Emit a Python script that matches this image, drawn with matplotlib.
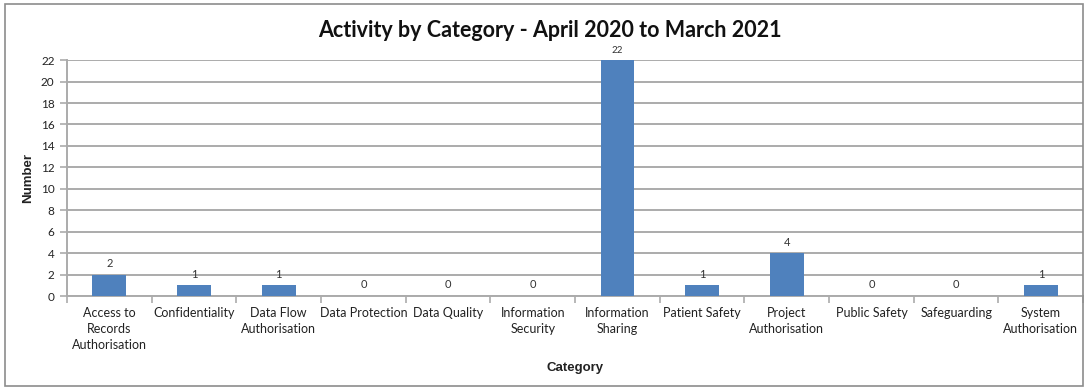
import matplotlib
matplotlib.use("Agg")
import matplotlib.pyplot as plt
from matplotlib.patches import Rectangle
import numpy as np

categories = [
    "Access to\nRecords\nAuthorisation", "Confidentiality", "Data Flow\nAuthorisation",
    "Data Protection", "Data Quality", "Information\nSecurity", "Information\nSharing",
    "Patient Safety", "Project\nAuthorisation", "Public Safety", "Safeguarding",
    "System\nAuthorisation",
]
counts = [2, 1, 1, 0, 0, 0, 22, 1, 4, 0, 0, 1]
y_ticks = list(range(0, 23, 2))

bar_color = "#4F81BD"
grid_color = "#ABABAB"
text_color = "#222222"
body_font = ["Lato", "DejaVu Sans"]
label_font = ["Liberation Sans", "DejaVu Sans"]

fig = plt.figure(figsize=(10.85, 3.88), dpi=100)
fig.patches.append(Rectangle((0.005, 0.005), 0.993, 0.985, transform=fig.transFigure,
                             fill=False, edgecolor="#8C8C8C", linewidth=1.2))

ax = fig.add_axes([0.0618, 0.237, 0.9365, 0.608])
x = np.arange(len(categories))
ax.bar(x, counts, width=0.4, color=bar_color, zorder=3)

ax.set_xlim(-0.5, len(categories) - 0.5)
ax.set_ylim(0, 22)
ax.set_yticks(y_ticks)
ax.set_yticklabels([str(v) for v in y_ticks], fontsize=8.5, family=body_font, color=text_color)
ax.yaxis.grid(True, color=grid_color, linewidth=1.4, zorder=0)
ax.set_axisbelow(True)

ax.set_xticks(x)
ax.set_xticklabels(categories, fontsize=9, family=body_font, color=text_color,
                   linespacing=1.4, va="top")
ax.tick_params(axis="x", which="major", length=0, pad=8)
ax.set_xticks(np.arange(-0.5, len(categories), 1), minor=True)
ax.tick_params(axis="x", which="minor", length=5, color=grid_color, width=1.2)
ax.tick_params(axis="y", length=5, color=grid_color, width=1.2, pad=4)

for side in ("top", "right"):
    ax.spines[side].set_visible(False)
for side in ("left", "bottom"):
    ax.spines[side].set_color(grid_color)
    ax.spines[side].set_linewidth(1.4)

for xi, v in zip(x, counts):
    ax.annotate(str(v), (xi, v), xytext=(0, 4), textcoords="offset points",
                ha="center", va="bottom", fontsize=8 if v < 22 else 7,
                family=body_font, color="#333333")

ax.set_ylabel("Number", fontsize=9.5, fontweight="bold", family=label_font,
              color=text_color, labelpad=5)
ax.set_xlabel("Category", fontsize=9.5, fontweight="bold", family=label_font,
              color=text_color, labelpad=8)

fig.text(0.507, 0.922, "Activity by Category - April 2020 to March 2021", ha="center", va="center",
         fontsize=15.5, fontweight="bold", family=body_font, color="#111111")

fig.savefig("out.png", dpi=100)
